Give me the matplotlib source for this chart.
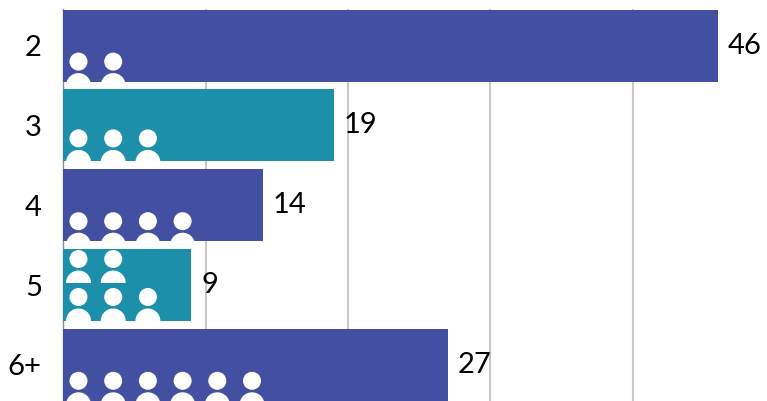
#!/usr/bin/env python3
import matplotlib
matplotlib.use("Agg")
import matplotlib.pyplot as plt
from matplotlib.patches import Circle, Wedge
from matplotlib.transforms import Affine2D

CHART_FILE = "out.png"

categories = ["2", "3", "4", "5", "6+"]
values = [46, 19, 14, 9, 27]
# people drawn in each row of icons inside a bar (top row first)
icon_rows = [[2], [3], [4], [2, 3], [6]]
grid_ticks = [10, 20, 30, 40]

BLUE = "#434FA0"
TEAL = "#1C90AB"
bar_colors = [BLUE, TEAL, BLUE, TEAL, BLUE]

# layout, measured in pixels of the 767x401 image
LEFT = 63.4
PX_PER_UNIT = 14.23
PX_PER_ROW = 79.8
FIRST_ROW = 45.6
ICON_X0 = 15.1
ICON_STEP = 34.7
HEAD_R = 9
BODY_R = 12.5
# head centre, measured up from the bottom of the bar
head_offsets = [[20], [23], [20], [62, 24], [20]]

plt.rcParams["font.family"] = ["Lato", "DejaVu Sans"]

fig = plt.figure(figsize=(7.67, 4.01), dpi=100)
ax = fig.add_axes([LEFT / 767, 0, (767 - LEFT) / 767, 1])
ax.set_xlim(0, (767 - LEFT) / PX_PER_UNIT)
ax.set_ylim((401 - FIRST_ROW) / PX_PER_ROW, -FIRST_ROW / PX_PER_ROW)

for spine in ["top", "right", "bottom"]:
    ax.spines[spine].set_visible(False)
ax.spines["left"].set_color("#8c8c8c")
ax.spines["left"].set_linewidth(1.0)
ax.spines["left"].set_bounds(-37 / PX_PER_ROW, (401 - FIRST_ROW) / PX_PER_ROW)
ax.spines["left"].set_zorder(1)

ax.set_xticks([])
ax.set_yticks(range(len(categories)))
ax.set_yticklabels(categories, fontsize=21, color="#000000")
ax.tick_params(axis="y", length=0, pad=15.5)

ax.vlines(grid_ticks, -37 / PX_PER_ROW, (401 - FIRST_ROW) / PX_PER_ROW,
          color="#c8c8c8", linewidth=1.5, zorder=1)

BAR_HEIGHT = 72 / PX_PER_ROW
bars = ax.barh(range(len(categories)), values, height=BAR_HEIGHT,
               color=bar_colors, zorder=2)

for i, (value, bar) in enumerate(zip(values, bars)):
    ax.annotate(str(value), (value, i), xytext=(7, 0), textcoords="offset points",
                ha="left", va="center", fontsize=21, color="#000000",
                annotation_clip=False, zorder=4)

    # little people, sized in pixels and placed from the bar's bottom edge
    bar_bottom = i + BAR_HEIGHT / 2
    for count, offset in zip(icon_rows[i], head_offsets[i]):
        for n in range(count):
            px = Affine2D().scale(1 / PX_PER_UNIT, 1 / PX_PER_ROW).translate(
                (ICON_X0 + n * ICON_STEP) / PX_PER_UNIT,
                bar_bottom - offset / PX_PER_ROW)
            head = Circle((0, 0), HEAD_R, facecolor="white", edgecolor="none",
                          transform=px + ax.transData, zorder=3)
            # body is a half disc whose flat edge sits below the head
            body = Wedge((0, 24), BODY_R, 180, 360, facecolor="white", edgecolor="none",
                         transform=px + ax.transData, zorder=3)
            ax.add_patch(head)
            ax.add_patch(body)
            body.set_clip_path(bar)

plt.savefig(CHART_FILE, dpi=100)
plt.close()
